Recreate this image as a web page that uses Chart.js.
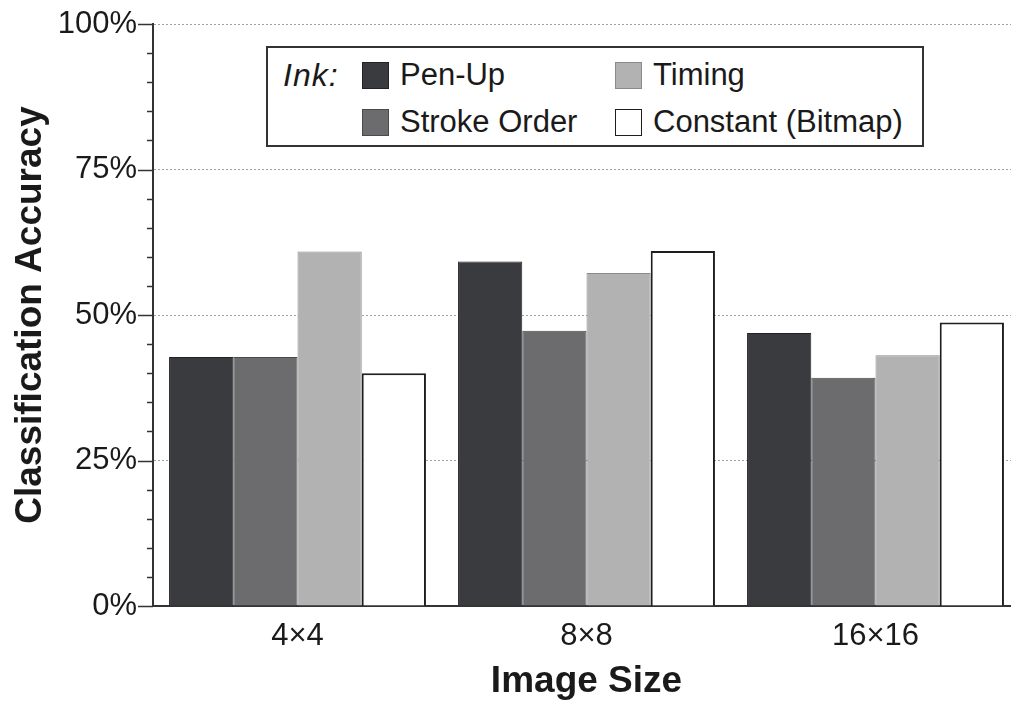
<!DOCTYPE html>
<html>
<head>
<meta charset="utf-8">
<script src="https://cdn.jsdelivr.net/npm/chart.js@4.4.1/dist/chart.umd.min.js"></script>
<style>
  html, body { margin: 0; padding: 0; background: #fff; overflow: hidden; }
  #wrap { position: relative; width: 1020px; height: 704px; }
  #legend {
    position: absolute; left: 266px; top: 46px; width: 654px; height: 97px;
    border: 2px solid #333; background: #fff;
    font-family: "Liberation Sans", Arial, sans-serif; font-size: 31px; color: #1a1a1a;
  }
  #legend .ink { position: absolute; left: 15px; top: 9px; font-style: italic; font-size: 32px; letter-spacing: 1px; }
  #legend .item { position: absolute; display: flex; align-items: center; height: 36px; }
  #legend .sw { width: 27px; height: 27px; margin-right: 11px; box-sizing: border-box; }
</style>
</head>
<body>
<div id="wrap">
  <canvas id="accChart"></canvas>
  <div id="legend"><span class="ink">Ink:</span></div>
</div>
<script>
const categories = ["4\u00d74", "8\u00d78", "16\u00d716"];
const seriesNames = ["Pen-Up", "Stroke Order", "Timing", "Constant (Bitmap)"];
const penUp = [42.8, 59.2, 46.9];
const strokeOrder = [42.8, 47.3, 39.2];
const timing = [60.9, 57.2, 43.1];
const constant = [40.0, 61.0, 48.7];
const yTickLabels = [0, 25, 50, 75, 100];

const fills = ["#3a3b3f", "#6c6c6e", "#b2b2b2", "#ffffff"];
const edges = ["#222226", "#4a4a4c", "#8a8a8a", "#1e1e1e"];
const FONT = '"Liberation Sans", Arial, sans-serif';

// little tick marks on the y axis: long ones at labels, short every 5%
const yTickMarks = {
  id: "yTickMarks",
  afterDraw(chart) {
    const y = chart.scales.y;
    const ctx = chart.ctx;
    const x0 = y.right;
    ctx.save();
    ctx.strokeStyle = "#333";
    ctx.lineWidth = 1.5;
    for (let v = 0; v <= 100; v += 5) {
      const py = Math.round(y.getPixelForValue(v)) + 0.5;
      const len = yTickLabels.includes(v) ? 15 : 6;
      ctx.beginPath();
      ctx.moveTo(x0 - len, py);
      ctx.lineTo(x0, py);
      ctx.stroke();
    }
    ctx.restore();
  },
};

const data = [penUp, strokeOrder, timing, constant];

const accChart = new Chart(document.getElementById("accChart"), {
  type: "bar",
  data: {
    labels: categories,
    datasets: seriesNames.map((name, i) => ({
      label: name,
      data: data[i],
      backgroundColor: fills[i],
      borderColor: edges[i],
      borderWidth: i === 3 ? 2 : 1,
      borderSkipped: "bottom",
      categoryPercentage: 0.889,
      barPercentage: 1.0,
    })),
  },
  options: {
    responsive: true,
    maintainAspectRatio: false,
    animation: false,
    layout: { padding: { top: 24, right: 0, left: 0, bottom: 0 } },
    plugins: { legend: { display: false }, tooltip: { enabled: false } },
    scales: {
      x: {
        grid: { display: false, drawTicks: false },
        border: { color: "#333", width: 2 },
        ticks: { color: "#1a1a1a", font: { family: FONT, size: 31 }, padding: 12 },
        title: {
          display: true,
          text: "Image Size",
          color: "#1a1a1a",
          font: { family: FONT, size: 37, weight: "bold" },
          padding: { top: 6, bottom: 0 },
        },
        afterFit(s) { s.height = 98; s.paddingLeft = 0; s.paddingRight = 0; },
      },
      y: {
        min: 0,
        max: 100,
        ticks: {
          stepSize: 5,
          autoSkip: false,
          color: "#1a1a1a",
          font: { family: FONT, size: 31 },
          padding: 16,
          callback: (v) => (v % 25 === 0 ? v + "%" : ""),
        },
        grid: {
          drawTicks: false,
          lineWidth: 1,
          color: (c) => (c.tick && c.tick.value % 25 === 0 && c.tick.value > 0 ? "#a0a0a0" : "rgba(0,0,0,0)"),
        },
        border: { color: "#333", width: 2, dash: [2, 2] },
        title: {
          display: true,
          text: "Classification Accuracy",
          color: "#1a1a1a",
          font: { family: FONT, size: 37, weight: "bold" },
          padding: { top: 9, bottom: 0 },
        },
        afterFit(s) { s.width = 153; s.paddingTop = 0; s.paddingBottom = 0; },
      },
    },
  },
  plugins: [yTickMarks],
});

// legend laid out as in the figure: 2 columns x 2 rows, next to "Ink:"
const legend = document.getElementById("legend");
const spots = [
  { left: 94, top: 9 },    // Pen-Up
  { left: 94, top: 56 },   // Stroke Order
  { left: 347, top: 9 },   // Timing
  { left: 347, top: 56 },  // Constant
];
accChart.data.datasets.forEach((ds, i) => {
  const item = document.createElement("div");
  item.className = "item";
  item.style.left = spots[i].left + "px";
  item.style.top = spots[i].top + "px";
  const sw = document.createElement("span");
  sw.className = "sw";
  sw.style.background = ds.backgroundColor;
  sw.style.border = "1.5px solid " + ds.borderColor;
  const txt = document.createElement("span");
  txt.textContent = ds.label;
  item.appendChild(sw);
  item.appendChild(txt);
  legend.appendChild(item);
});
</script>
</body>
</html>
